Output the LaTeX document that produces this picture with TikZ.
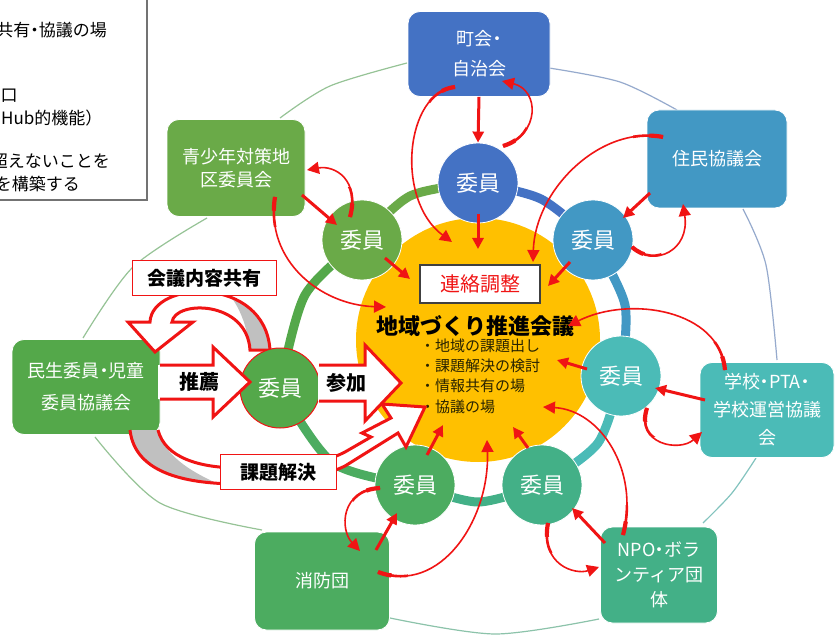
\documentclass[tikz,border=0pt]{standalone}
\usepackage{fontspec}
\setmainfont{Noto Sans CJK JP}
\usetikzlibrary{arrows.meta}
\definecolor{cBlue}{RGB}{68,114,196}
\definecolor{cSky}{RGB}{66,152,196}
\definecolor{cTeal}{RGB}{75,187,183}
\definecolor{cSea}{RGB}{67,176,135}
\definecolor{cGreen}{RGB}{76,172,96}
\definecolor{cLeaf}{RGB}{84,168,74}
\definecolor{cLime}{RGB}{106,170,72}
\definecolor{cYel}{RGB}{255,192,0}
\definecolor{cRed}{RGB}{240,20,20}
\definecolor{cLineG}{RGB}{150,195,150}
\definecolor{cLineB}{RGB}{150,170,205}
\definecolor{cLineT}{RGB}{130,195,190}
\definecolor{cBand}{RGB}{192,192,192}
\definecolor{cTxt}{RGB}{40,35,0}
\newcommand\jdot{\kern-0.25em・\kern-0.25em}
\newcommand\tapercurve[4]{%
  \draw[tnarrow] #1 .. controls #2 and #3 .. #4;
  \begin{scope}\clip #1 circle (30pt);\draw[cRed,line width=2.6pt] #1 .. controls #2 and #3 .. #4;\end{scope}
  \begin{scope}\clip #1 circle (14pt);\draw[cRed,line width=4.2pt] #1 .. controls #2 and #3 .. #4;\end{scope}
}
\begin{document}
\begin{tikzpicture}[x=1pt,y=-1pt,
  obox/.style={rounded corners=12pt, inner sep=0pt, text=white, align=center, draw=white, line width=0.8pt},
  member/.style={circle, inner sep=0pt, minimum size=80pt, text=white, draw=white, line width=0.8pt, font=\fontsize{22}{22}\selectfont},
  ringseg/.style={line width=9pt},
  olink/.style={line width=1.2pt},
  tharrow/.style={color=cRed, line width=3pt, -{Triangle[length=11pt,width=11pt]}},
  tnarrow/.style={color=cRed, line width=1.6pt, -{Triangle[length=12pt,width=12pt]}},
  hollow/.style={draw=cRed, line width=3pt, line join=miter},
  lbl/.style={draw=cRed, line width=1pt, fill=white, inner sep=0pt, font=\fontsize{19}{19}\selectfont\bfseries},
  legend/.style={inner sep=0pt, font=\fontsize{17}{17}\selectfont}
]
\useasboundingbox (0,0) rectangle (835,636);
\clip (0,0) rectangle (835,636);
\fill[white] (0,0) rectangle (835,636);

% legend box (cut by the picture edge, as in the reference)
\draw[black!55, line width=1.5pt, fill=white] (-5,-5) rectangle (147,200);
\node[legend, anchor=east] (lg1) at (107,30) {共有\jdot 協議の場};
\node[legend, anchor=west] (lg2) at (0.5,96) {口};
\node[legend, anchor=west] (lg3) at (1,118) {Hub的機能）};
\node[legend, anchor=east] (lg4) at (110,161) {超えないことを};
\node[legend, anchor=east] (lg5) at (80,184) {を構築する};

% outer thin connectors
\draw[olink, cLineB] plot[smooth] coordinates {(549,68) (620,82) (677,110)};
\draw[olink, cLineB] plot[smooth] coordinates {(743,209) (766,265) (777,360)};
\draw[olink, cLineT] plot[smooth] coordinates {(756,458) (732,493) (703,523)};
\draw[olink, cLineT!50!cLineG] plot[smooth] coordinates {(599,619) (495,634) (390,618)};
\draw[olink, cLineG] plot[smooth] coordinates {(262,530) (160,503) (95,437)};
\draw[olink, cLineG] plot[smooth] coordinates {(83,338) (133,267) (207,218)};
\draw[olink, cLineG] plot[smooth] coordinates {(280,118) (330,86) (407,63)};

% outer boxes
\node[obox, fill=cBlue, minimum width=142pt, minimum height=85pt, font=\fontsize{18}{30}\selectfont] (chokai) at (479,54) {町会\jdot\\自治会};
\node[obox, fill=cSky, minimum width=140pt, minimum height=98pt, font=\fontsize{18}{20}\selectfont] (jumin) at (717,159) {住民協議会};
\node[obox, fill=cTeal, minimum width=134pt, minimum height=95pt, font=\fontsize{18}{28}\selectfont] (gakko) at (767,410) {学校\jdot PTA\jdot\\学校運営協議\\会};
\node[obox, fill=cSea, minimum width=117pt, minimum height=96pt, font=\fontsize{18}{25}\selectfont] (npo) at (659,575) {NPO\jdot ボラ\\ンティア団\\体};
\node[obox, fill=cGreen, minimum width=135pt, minimum height=98pt, font=\fontsize{18}{20}\selectfont] (shobo) at (322,581) {消防団};
\node[obox, fill=cLeaf, minimum width=148pt, minimum height=95pt, font=\fontsize{18}{32}\selectfont] (minsei) at (86,387) {民生委員\jdot 児童\\委員協議会};
\node[obox, fill=cLime, minimum width=138pt, minimum height=97pt, font=\fontsize{18}{23}\selectfont] (seisho) at (236,168) {青少年対策地\\区委員会};

% ring of members
\coordinate (cT) at (478,183);
\coordinate (cJ) at (593,240);
\coordinate (cG) at (621,376);
\coordinate (cN) at (542,485);
\coordinate (cS) at (415,485);
\coordinate (cM) at (280,388);
\coordinate (cY) at (362,240);
\draw[ringseg, cLime] plot[smooth] coordinates {(cY) (410,196) (cT)};
\draw[ringseg, cBlue] plot[smooth] coordinates {(cT) (541,199) (cJ)};
\draw[ringseg, cSky] plot[smooth] coordinates {(cJ) (625,305) (cG)};
\draw[ringseg, cTeal] plot[smooth] coordinates {(cG) (598,443) (cN)};
\draw[ringseg, cSea] plot[smooth] coordinates {(cN) (478,502) (cS)};
\draw[ringseg, cGreen] plot[smooth] coordinates {(cS) (333,463) (cM)};
\draw[ringseg, cLeaf] plot[smooth] coordinates {(cM) (305,295) (cY)};

% central council
\node[circle, fill=cYel, minimum size=244pt, inner sep=0pt] (hub) at (478,340) {};

% curved hollow arrow: 会議内容共有
\fill[white] (128,322) -- (150,322) .. controls (152,280) and (265,275) .. (270,350) -- (250,350) .. controls (247,300) and (175,300) .. (172,322) -- (193,322) -- (155,352) -- cycle;
\begin{scope}
\clip (128,322) -- (150,322) .. controls (152,280) and (265,275) .. (270,350) -- (250,350) .. controls (247,300) and (175,300) .. (172,322) -- (193,322) -- (155,352) -- cycle;
\fill[cBand] (222,285) -- (300,285) -- (300,360) -- (250,360) .. controls (249,330) and (242,308) .. (222,285) -- cycle;
\end{scope}
\draw[hollow] (128,322) -- (150,322) .. controls (152,280) and (265,275) .. (270,350) -- (250,350) .. controls (247,300) and (175,300) .. (172,322) -- (193,322) -- (155,352) -- cycle;

% members
\node[member, fill=cBlue] (mT) at (cT) {委員};
\node[member, fill=cSky] (mJ) at (cJ) {委員};
\node[member, fill=cTeal] (mG) at (cG) {委員};
\node[member, fill=cSea] (mN) at (cN) {委員};
\node[member, fill=cGreen] (mS) at (cS) {委員};
\node[member, fill=cLeaf, draw=cRed, line width=1pt] (mM) at (cM) {委員};
\node[member, fill=cLime] (mY) at (cY) {委員};

% texts of the council
\node[draw=black!75, line width=1.2pt, fill=white, minimum width=120pt, minimum height=38pt, inner sep=0pt, text=cRed, font=\fontsize{20}{20}\selectfont] (renraku) at (480,284) {連絡調整};
\node[inner sep=0pt, font=\fontsize{22}{22}\selectfont\bfseries] (title) at (475,326) {地域づくり推進会議};
\node[anchor=west, align=left, inner sep=0pt, text=cTxt, font=\fontsize{15}{20.3}\selectfont] (bullets) at (420,376) {・地域の課題出し\\・課題解決の検討\\・情報共有の場\\・協議の場};

% curved hollow arrow: 課題解決
\fill[white] (130,430) .. controls (135,475) and (190,484) .. (240,484) .. controls (290,484) and (320,478) .. (345,466) -- (398,433) -- (406,447) -- (425,407) -- (382,404) -- (391,418) -- (362,433) -- (371,437) -- (345,452) .. controls (318,466) and (285,468) .. (240,468) .. controls (200,468) and (165,458) .. (158,430) -- cycle;
\begin{scope}
\clip (130,430) .. controls (135,475) and (190,484) .. (240,484) .. controls (290,484) and (320,478) .. (345,466) -- (398,433) -- (406,447) -- (425,407) -- (382,404) -- (391,418) -- (362,433) -- (371,437) -- (345,452) .. controls (318,466) and (285,468) .. (240,468) .. controls (200,468) and (165,458) .. (158,430) -- cycle;
\fill[cBand] (150,420) -- (157,430) .. controls (168,462) and (200,476) .. (232,490) -- (100,500) -- (100,420) -- cycle;
\end{scope}
\draw[hollow] (130,430) .. controls (135,475) and (190,484) .. (240,484) .. controls (290,484) and (320,478) .. (345,466) -- (398,433) -- (406,447) -- (425,407) -- (382,404) -- (391,418) -- (362,433) -- (371,437) -- (345,452) .. controls (318,466) and (285,468) .. (240,468) .. controls (200,468) and (165,458) .. (158,430);

% straight hollow arrows
\fill[white] (158,365) -- (213,365) -- (213,347) -- (250,382) -- (213,417) -- (213,399) -- (158,399) -- cycle;
\draw[hollow] (160,365) -- (213,365) -- (213,347) -- (250,382) -- (213,417) -- (213,399) -- (160,399);
\node[inner sep=0pt, font=\fontsize{20}{20}\selectfont\bfseries] (suisen) at (199,382) {推薦};
\fill[white] (318,365) -- (365,365) -- (365,345) -- (401,383) -- (365,421) -- (365,401) -- (318,401) -- cycle;
\draw[hollow] (319,365) -- (365,365) -- (365,345) -- (401,383) -- (365,421) -- (365,401) -- (319,401);
\node[inner sep=0pt, font=\fontsize{20}{20}\selectfont\bfseries] (sanka) at (346,383) {参加};

% labels
\node[lbl, minimum width=144pt, minimum height=35pt] (kaigi) at (204,278) {会議内容共有};
\node[lbl, minimum width=116pt, minimum height=35pt] (kadai) at (278,472) {課題解決};

% connector end points
\coordinate (sB) at (478,214); \coordinate (eB) at (478,249);
\coordinate (sE) at (650,193); \coordinate (eE) at (623,218);
\coordinate (sH) at (570,262); \coordinate (eH) at (548,286);
\coordinate (sI) at (705,400); \coordinate (eI) at (655,388);
\coordinate (sL) at (587,369); \coordinate (eL) at (557,360);
\coordinate (sM) at (605,543); \coordinate (eM) at (572,508);
\coordinate (sP) at (528,448); \coordinate (eP) at (513,427);
\coordinate (sQ) at (376,550); \coordinate (eQ) at (397,513);
\coordinate (sT) at (427,455); \coordinate (eT) at (443,425);
\coordinate (sU) at (302,195); \coordinate (eU) at (337,225);
\coordinate (sX) at (385,258); \coordinate (eX) at (410,279);
\coordinate (sD) at (455,87);  \coordinate (eD) at (452,242);
\coordinate (sC) at (503,146); \coordinate (eC) at (502,81);
\coordinate (sG) at (663,137); \coordinate (eG) at (533,262);
\coordinate (sF) at (632,247); \coordinate (eF) at (683,204);
\coordinate (sK) at (725,370); \coordinate (eK) at (568,326);
\coordinate (sJ) at (647,408); \coordinate (eJ) at (702,432);
\coordinate (sO) at (623,535); \coordinate (eO) at (543,407);
\coordinate (sN) at (548,523); \coordinate (eN) at (599,567);
\coordinate (sS) at (378,572); \coordinate (eS) at (487,440);
\coordinate (sR) at (380,488); \coordinate (eR) at (360,551);
\coordinate (sW) at (275,197); \coordinate (eW) at (386,307);
\coordinate (sV) at (350,217); \coordinate (eV) at (307,170);

% thick short arrows
\draw[tharrow] (chokai.south) -- (mT.north);
\draw[tharrow] (sB) -- (eB);
\draw[tharrow] (sE) -- (eE);
\draw[tharrow] (sH) -- (eH);
\draw[tharrow] (sI) -- (eI);
\draw[tharrow] (sL) -- (eL);
\draw[tharrow] (sM) -- (eM);
\draw[tharrow] (sP) -- (eP);
\draw[tharrow] (sQ) -- (eQ);
\draw[tharrow] (sT) -- (eT);
\draw[tharrow] (sU) -- (eU);
\draw[tharrow] (sX) -- (eX);

% thin curved arrows
\tapercurve{(sD)}{(405,92)}{(395,200)}{(eD)}
\tapercurve{(sC)}{(540,135)}{(540,90)}{(eC)}
\tapercurve{(sG)}{(600,125)}{(535,190)}{(eG)}
\tapercurve{(sF)}{(655,268)}{(690,250)}{(eF)}
\tapercurve{(sK)}{(720,310)}{(630,295)}{(eK)}
\tapercurve{(sJ)}{(635,445)}{(680,452)}{(eJ)}
\tapercurve{(sO)}{(640,470)}{(600,410)}{(eO)}
\tapercurve{(sN)}{(540,565)}{(575,575)}{(eN)}
\tapercurve{(sS)}{(440,595)}{(490,520)}{(eS)}
\tapercurve{(sR)}{(340,490)}{(340,530)}{(eR)}
\tapercurve{(sW)}{(265,260)}{(320,305)}{(eW)}
\tapercurve{(sV)}{(360,180)}{(335,165)}{(eV)}
\end{tikzpicture}
\end{document}
